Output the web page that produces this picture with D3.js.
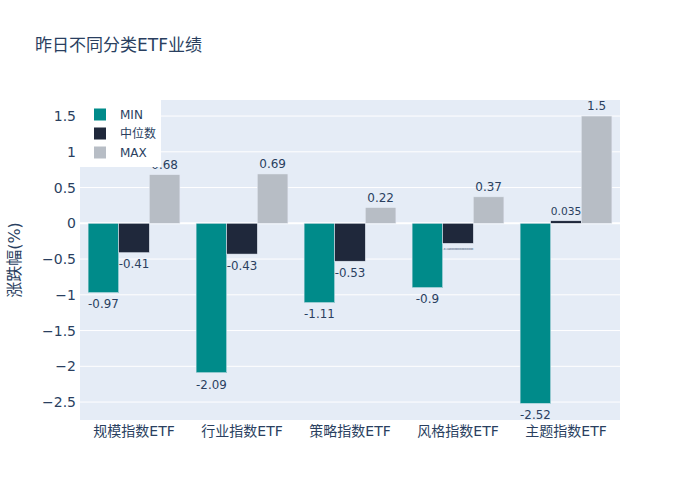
<!DOCTYPE html>
<html><head><meta charset="utf-8">
<script src="https://cdn.jsdelivr.net/npm/d3@7"></script>
<style>body{margin:0;background:#fff}svg{display:block}</style>
</head><body>
<script>
const categories = ["规模指数ETF","行业指数ETF","策略指数ETF","风格指数ETF","主题指数ETF"];
const seriesNames = ["MIN","中位数","MAX"];
const minValues = [-0.97,-2.09,-1.11,-0.9,-2.52];
const medianValues = [-0.41,-0.43,-0.53,-0.28,0.035];
const maxValues = [0.68,0.69,0.22,0.37,1.5];
const medianLabels = ["-0.41","-0.43","-0.53","-0.2800000000000000","0.035"];
const yTicks = [-2.5,-2,-1.5,-1,-0.5,0,0.5,1,1.5];
const colors = ["#008b8a","#1f283b","#b7bdc5"];

const W=700,H=500, L=80,R=620,T=100,B=420;
const font = "'DejaVu Sans','Noto Sans CJK SC',sans-serif";
const txt = "#2a3f5f";
const svg = d3.select("body").append("svg").attr("width",W).attr("height",H).style("font-family",font);

const y = d3.scaleLinear().domain([-2.751,1.7245]).range([B,T]);
const x0 = d3.scaleBand().domain(categories).range([L,R]).paddingInner(0.15).paddingOuter(0.075);
const x1 = d3.scaleBand().domain(seriesNames).range([0,x0.bandwidth()]);

svg.append("rect").attr("x",L).attr("y",T).attr("width",R-L).attr("height",B-T).attr("fill","#e5ecf6");
// grid
svg.append("g").selectAll("line").data(yTicks.filter(d=>d!==0)).join("line")
  .attr("x1",L).attr("x2",R).attr("y1",d=>y(d)).attr("y2",d=>y(d)).attr("stroke","#fff").attr("stroke-width",1);
svg.append("line").attr("x1",L).attr("x2",R).attr("y1",y(0)).attr("y2",y(0)).attr("stroke","#fff").attr("stroke-width",2);

// y axis
const yAxis = d3.axisLeft(y).tickValues(yTicks).tickSize(0).tickPadding(3)
  .tickFormat(d=>d3.format("")(d).replace("-","\u2212"));
const ya = svg.append("g").attr("transform",`translate(${L-1},0)`).call(yAxis);
ya.select(".domain").remove();
ya.selectAll("text").attr("font-size",14).attr("fill",txt).attr("font-family",font);

// x axis
const xAxis = d3.axisBottom(x0).tickSize(0).tickPadding(6);
const xa = svg.append("g").attr("transform",`translate(0,${B})`).call(xAxis);
xa.select(".domain").remove();
xa.selectAll("text").attr("font-size",14).attr("fill",txt).attr("font-family",font);

const data = categories.map((c,i)=>({c, vals:[minValues[i],medianValues[i],maxValues[i]], labels:[String(minValues[i]),medianLabels[i],String(maxValues[i])]}));

data.forEach(d=>{
  const g = svg.append("g").attr("transform",`translate(${x0(d.c)},0)`);
  d.vals.forEach((v,j)=>{
    const bx = x1(seriesNames[j]), bw = x1.bandwidth();
    g.append("rect").attr("x",bx).attr("width",bw)
      .attr("y",Math.min(y(v),y(0))).attr("height",Math.abs(y(v)-y(0)))
      .attr("fill",colors[j]).attr("stroke","#e5ecf6").attr("stroke-width",0.5);
    const label = d.labels[j];
    const t = g.append("text").attr("x",bx+bw/2).attr("text-anchor","middle").attr("fill",txt).attr("font-size",12).text(label);
    const w = t.node().getComputedTextLength();
    let fs = 12;
    if (w > bw) { fs = 12*bw/w; t.attr("font-size",fs); }
    if (v>=0) t.attr("y", y(v)-6*fs/12);
    else t.attr("y", y(v)+ (fs===12?15:fs*1.0+4));
  });
});

// legend
const lg = svg.append("g");
lg.append("rect").attr("x",L).attr("y",T).attr("width",81).attr("height",67).attr("fill","#fff");
seriesNames.forEach((s,i)=>{
  const cy = 114.5 + i*19;
  lg.append("rect").attr("x",94).attr("y",cy-6).attr("width",12).attr("height",12).attr("fill",colors[i]);
  lg.append("text").attr("x",120).attr("y",cy+4.5).attr("font-size",12).attr("fill",txt).text(s);
});

// title
svg.append("text").attr("x",35).attr("y",51).attr("font-size",17).attr("fill",txt).text("昨日不同分类ETF业绩");
svg.append("text").attr("transform",`translate(20,${(T+B)/2 + 0}) rotate(-90)`).attr("text-anchor","middle")
  .attr("font-size",16).attr("fill",txt).text("涨跌幅(%)");
</script>
</body></html>
